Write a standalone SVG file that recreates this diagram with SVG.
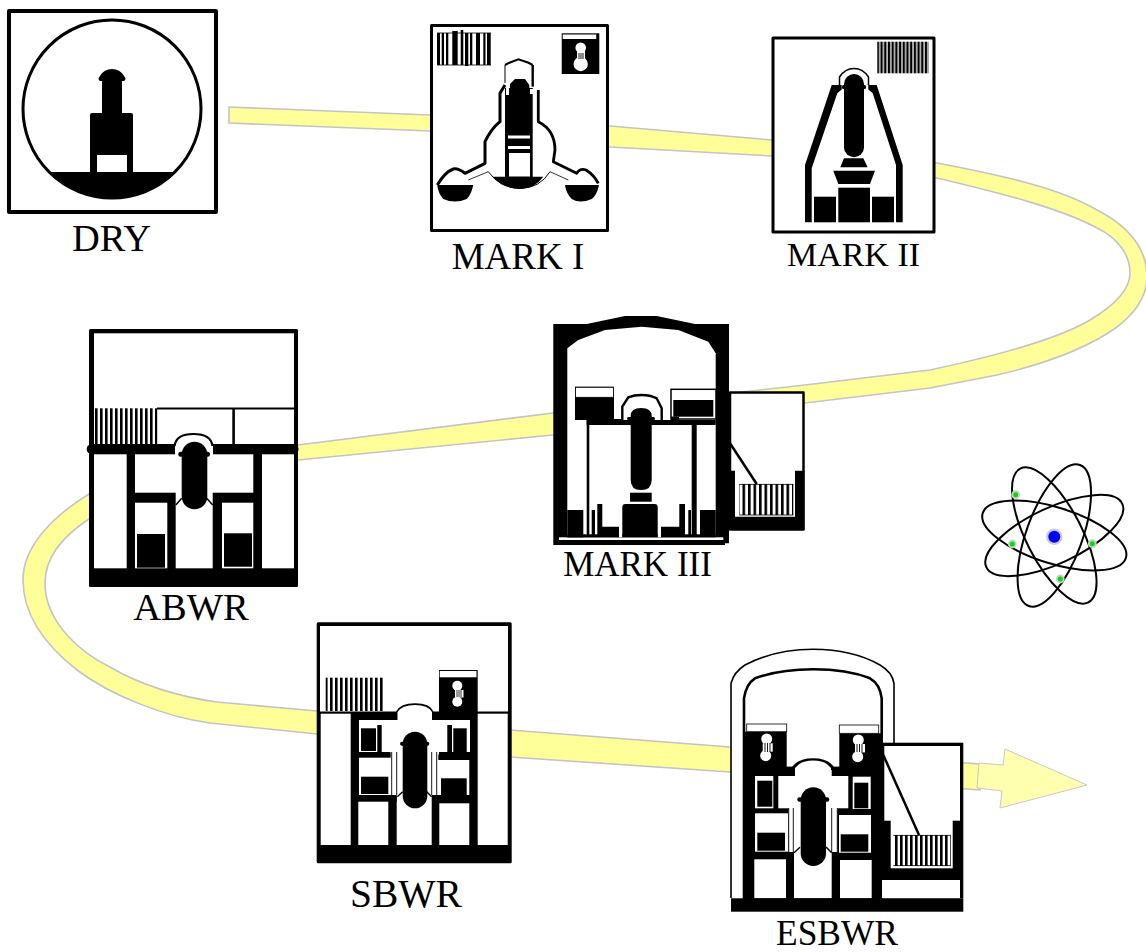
<svg xmlns="http://www.w3.org/2000/svg" width="1146" height="952" viewBox="0 0 1146 952">
<style>
.k{fill:#000}
.w{fill:#fff}
.box{fill:#fff;stroke:#000;stroke-linejoin:round}
.ln{fill:none;stroke:#000}
.t{font-family:"Liberation Serif","Times New Roman",serif;fill:#000;text-anchor:middle}
.orb{fill:none;stroke:#000;stroke-width:2}
</style>
<defs>
<pattern id="bars5" patternUnits="userSpaceOnUse" width="5" height="10"><rect width="5" height="10" fill="#fff"/><rect width="2.6" height="10" fill="#000"/></pattern>
<pattern id="bars6" patternUnits="userSpaceOnUse" width="5.5" height="10"><rect width="5.5" height="10" fill="#fff"/><rect width="2.6" height="10" fill="#000"/></pattern>
<pattern id="bars4" patternUnits="userSpaceOnUse" width="3.7" height="10"><rect width="3.7" height="10" fill="#bbb"/><rect width="2" height="10" fill="#000"/></pattern>
</defs>
<rect width="1146" height="952" fill="#fff"/>

<g id="connectors">
<path id="ribbon" fill="#ffff99" stroke="#c4c4c4" stroke-width="1.6" d="M229,107 L430,115 L610,126 L772,140 L937,163 C1000,175 1060,188 1097,210 C1130,227 1147,250 1147,277 C1147,300 1130,317 1117,327 C1085,350 1040,365 997,375 L930,388 L805,403 L553,435 L298,460 L89,519 C60,538 45,560 45,583 C45,625 85,655 110,667 C140,685 180,697 217,702 L317,711 L510,730 L730,747 L980,764 L980,790 L730,772 L510,757 L317,734 L210,723 C165,717 110,695 77,670 C45,645 23,615 23,580 C23,545 55,515 89,494 L298,445 L553,413 L805,385 L930,370 C1000,355 1060,338 1090,320 C1115,305 1130,290 1130,273 C1130,255 1118,238 1097,228 C1060,208 1000,193 937,178 L772,156 L610,147 L430,131 L229,123 Z"/>
<path id="arrowhead" fill="#ffffb0" stroke="#c8c8c8" stroke-width="1" d="M979,763 L1003,765 L1005,749 L1087,785 L1000,808 L1002,791 L977,788 Z"/>
</g>

<g id="dry">
<rect class="box" x="9" y="11" width="207" height="201" stroke-width="4"/>
<circle cx="112" cy="109" r="89" fill="#fff" stroke="#000" stroke-width="3"/>
<path class="k" d="M49,172 A89,89 0 0 0 175,172 Z"/>
<path class="k" d="M90,172 V115 Q90,113 92,113 H102 V81 H100 Q97,79 100,76 Q104,69 112,69 Q120,69 124,76 Q127,79 124,81 H122 V113 H131 Q133,113 133,115 V172 Z"/>
<rect class="w" x="97" y="155" width="30" height="17"/>
<text class="t" x="111.5" y="251" font-size="38.5">DRY</text>
</g>

<g id="mark1">
<rect class="box" x="431.5" y="25.5" width="176" height="205" stroke-width="3"/>
<path class="k" d="M437,33h3v32h-3zM441.7,33h2.3v32h-2.3zM446,33h2.3v32h-2.3zM452.3,31h5.4v34h-5.4zM460.7,30h2.6v35h-2.6zM465,33h3.3v33h-3.3zM470,33h2.3v32h-2.3zM476,33h4v32h-4zM483.3,33h2.2v32h-2.2zM487,33h3.7v32h-3.7z"/>
<path class="ln" stroke-width="0.8" d="M437,33H491M437,65H491"/>
<rect class="k" x="561.7" y="33.3" width="37.6" height="40.7"/>
<rect class="w" x="562.7" y="34.5" width="33.5" height="4.5"/>
<circle class="w" cx="580.7" cy="47.7" r="5.3"/>
<circle class="w" cx="580.7" cy="64" r="7.2"/>
<rect class="w" x="577" y="50" width="8" height="10"/>
<path class="ln" stroke-width="0.9" d="M579,53V59M581,53V59M583,53V59"/>
<path class="ln" stroke="#999" stroke-width="0.8" d="M468.3,180 L488.3,171.7 M550,171.7 L568.3,180"/>
<path class="ln" stroke-width="1" stroke="#777" d="M505,83V65"/>
<path class="ln" stroke-width="2" d="M505,65 L510,62.5 L518.3,59.3 L528,62.5 L532.7,65"/>
<path class="ln" stroke-width="2.4" d="M532.7,65 V86.7"/>
<path class="ln" stroke-width="3" stroke-linejoin="round" d="M505,85 L500,93.3 V121.7 Q491,129 485,141.7 V163.3 L465,173.3 Q458,168 453.3,169 Q445,172 437.3,185"/>
<path class="ln" stroke-width="2.8" stroke-linejoin="round" d="M538.3,90 V121.7 Q555,130 555,150 L553.3,161.7 L576.7,173.3 Q580,168 586,170 Q594,175 598.3,183.3"/>
<path class="k" d="M437.3,185 H473.3 Q471,195 466.7,199 Q455,204 443.3,199 Q438,193 437.3,185 Z"/>
<path class="k" d="M565,185 H599 Q597,195 591.7,199 Q580,204 571.7,199 Q566,193 565,185 Z"/>
<path class="k" d="M492.7,176.7 H543.3 Q535,188.5 520,189 Q503,188.5 492.7,176.7 Z"/>
<path class="ln" stroke-width="1" d="M488.3,171.7 Q500,188 520,188.5 Q540,188 550,171.7"/>
<rect class="k" x="505" y="88" width="27.7" height="89"/>
<path class="k" d="M510,84 L515,79 H525 L529.3,85 V92 H510 Z"/>
<rect class="w" x="506" y="83" width="3" height="12"/>
<rect class="w" x="530" y="89" width="6" height="5"/>
<rect class="w" x="508" y="135.5" width="22" height="3"/>
<rect class="w" x="508" y="146" width="22" height="3"/>
<rect class="w" x="509" y="153" width="21" height="23.5"/>
<text class="t" x="518" y="269" font-size="37">MARK I</text>
</g>

<g id="mark2">
<rect class="box" x="773" y="38" width="161" height="194" stroke-width="3"/>
<rect x="877.3" y="41.7" width="51.4" height="31.6" fill="url(#bars4)"/>
<path class="k" d="M831.7,85 L805,165 V222.3 H811.7 V168.3 L837.3,93.3 L841.7,89.5 V85 Z"/>
<path class="k" d="M876.7,85 L902.7,165 V222.3 H896 V165 L872.7,93.3 L868.3,89.5 V85 Z"/>
<path class="ln" stroke-width="1.5" d="M839.5,85 V77 Q845,68.5 854,68.5 Q863,68.5 868.5,77 V85"/>
<rect class="k" x="844" y="74" width="20" height="83.3" rx="10"/>
<rect class="k" x="842" y="85" width="24" height="4" rx="1.5"/>
<path class="k" d="M844,158.3 H863.3 L867.7,167.3 H840.3 Z"/>
<path class="k" d="M833.3,170.7 H875 L870,184 H838.3 Z"/>
<rect class="k" x="838.3" y="187.7" width="31.7" height="34.6"/>
<rect class="k" x="814" y="196.7" width="22" height="25.6"/>
<rect class="k" x="872" y="196.7" width="22" height="25.6"/>
<text class="t" x="853.5" y="266" font-size="34">MARK II</text>
</g>

<g id="abwr">
<rect class="k" x="89" y="329" width="209" height="258" rx="1.5"/>
<rect class="w" x="94" y="333.3" width="200" height="111"/>
<rect x="94" y="408.3" width="63.3" height="35.7" fill="url(#bars5)"/>
<rect class="k" x="157" y="407.5" width="137" height="2"/>
<rect class="k" x="232.3" y="408" width="2.6" height="36"/>
<rect class="k" x="86.7" y="444" width="211.8" height="10.3" rx="5"/>
<rect class="w" x="94" y="454.3" width="32.7" height="114"/>
<rect class="w" x="262" y="454.3" width="32" height="114"/>
<rect class="w" x="135" y="454.3" width="118.3" height="38.4"/>
<rect class="w" x="175.7" y="490" width="37" height="78.3"/>
<rect class="w" x="135" y="502.7" width="32.3" height="65.6"/>
<rect class="w" x="222" y="502.7" width="31.3" height="65.6"/>
<rect class="k" x="137" y="534" width="28" height="33.7"/>
<rect class="k" x="224" y="533.3" width="28" height="33.4"/>
<rect class="w" x="175" y="440" width="38" height="15"/>
<path class="ln" stroke-width="2.2" d="M174.5,446 Q176,434 193.5,434 Q211,434 212.5,446"/>
<rect class="k" x="181.7" y="441.7" width="25.6" height="67.6" rx="12.8"/>
<rect class="k" x="178.3" y="451.7" width="31.7" height="5" rx="2.5"/>
<path class="ln" stroke-width="1.5" d="M175.7,505 L181.7,498.3 M212.7,505 L206.7,498.3"/>
<text class="t" x="191" y="620" font-size="38.5">ABWR</text>
</g>

<g id="mark3">
<rect class="box" x="730" y="392.5" width="73.5" height="137" stroke-width="2.5"/>
<path class="k" d="M729,470.7 H735 V516.7 H795 V470.7 H804.3 V530 H729 Z"/>
<rect x="739.3" y="484" width="54" height="31" fill="url(#bars6)"/>
<path class="ln" stroke-width="0.8" d="M739.3,484.4 H793.3 M739.3,515 H793.3"/>
<path class="ln" stroke-width="2.5" d="M730,443.3 L756.7,484"/>
<path class="k" d="M553.3,324 H586.7 L625,316 H656.7 L695,324 H729 V543.3 H725 V545 H553.3 Z"/>
<path class="w" d="M567.3,348.3 L578.3,340 L605,330 L641.7,326.7 L678.3,330 L708.3,341.7 L715.7,353.3 V536 H567.3 Z"/>
<rect class="w" x="559" y="537.3" width="164.3" height="2.7"/>
<rect class="k" x="567.3" y="510" width="16" height="27.3"/>
<rect class="k" x="567.3" y="534.3" width="148.4" height="3"/>
<rect class="k" x="586.7" y="420" width="129" height="5"/>
<rect class="k" x="586.7" y="420" width="2.6" height="116.7"/>
<rect class="k" x="691.7" y="420" width="5" height="116.7"/>
<rect class="k" x="591.7" y="510" width="3.3" height="26.7"/>
<path class="k" d="M597.3,504 H602.3 V526.7 H619 V537 H597.3 Z"/>
<rect class="w" x="619" y="526" width="3.3" height="11.3"/>
<rect class="w" x="657.7" y="526" width="3.3" height="11.3"/>
<path class="k" d="M622.3,507 Q622.3,504 625.3,504 H654.7 Q657.7,504 657.7,507 V537 H622.3 Z"/>
<rect class="k" x="630" y="492.7" width="21.7" height="9"/>
<path class="k" d="M685,504 H679.3 V526.7 H661 V537 H685 Z"/>
<rect class="k" x="688.3" y="510" width="2.7" height="26.7"/>
<rect class="k" x="700" y="510" width="15.7" height="27"/>
<rect class="k" x="575" y="386.7" width="39" height="33.3"/>
<rect x="575.5" y="387.3" width="38" height="10" fill="#fff" stroke="#000" stroke-width="0.8"/>
<rect class="k" x="614" y="419" width="8.3" height="5"/>
<rect x="671" y="389.3" width="45" height="29.7" fill="#fff" stroke="#000" stroke-width="1.5"/>
<rect class="k" x="673.3" y="400" width="40" height="16.7"/>
<rect class="k" x="671" y="416.5" width="8" height="4"/>
<path d="M622.3,420 V406.7 L628.3,397.3 Q634,395 641.7,395 Q650,395 656.7,398.3 L661.7,408.3 V420 Z" fill="#fff"/>
<path class="ln" stroke-width="2.4" d="M622.3,420 V406.7 L628.3,397.3 Q634,395 641.7,395 Q650,395 656.7,398.3 L661.7,408.3 V420"/>
<path class="k" d="M630.7,416 Q630.7,408 641,408 Q651.7,408 651.7,416 V480 Q651.7,490 641,490 Q630.7,490 630.7,480 Z"/>
<rect class="k" x="627" y="417" width="28" height="3" rx="1.5"/>
<text class="t" x="637.5" y="576" font-size="35">MARK III</text>
</g>

<g id="sbwr">
<rect class="k" x="316.7" y="622.3" width="195" height="241" rx="1.5"/>
<rect class="w" x="320" y="626" width="188" height="85.5"/>
<rect x="325.7" y="677.7" width="59.3" height="33.3" fill="url(#bars5)"/>
<rect class="w" x="320.7" y="713.7" width="30" height="131.3"/>
<rect class="w" x="477.7" y="713.7" width="30" height="131.3"/>
<rect class="k" x="439" y="670" width="38.7" height="43.3"/>
<rect class="w" x="439.7" y="671" width="36.8" height="6.3"/>
<circle class="w" cx="457.3" cy="685.7" r="5"/>
<circle class="w" cx="457.3" cy="701.7" r="5"/>
<rect class="w" x="455" y="690" width="8.5" height="7.5"/>
<path class="ln" stroke-width="0.8" d="M457,690V697M459,690V697M461,690V697"/>
<path class="k" d="M396,711.7 Q400,703.3 415,703.3 Q430,703.3 433.3,711.7 V716 H396 Z"/>
<path class="w" d="M397.5,712 Q402,705 415,705 Q428,705 432,712 L432,722 H397.5 Z"/>
<rect class="w" x="359" y="720" width="111" height="32"/>
<rect class="w" x="390" y="750" width="49" height="46"/>
<rect class="w" x="396.7" y="794" width="35" height="51"/>
<rect class="k" x="361" y="728.3" width="15" height="22.7"/>
<rect class="k" x="377.3" y="725" width="4.4" height="27.3"/>
<rect class="k" x="447.3" y="725" width="4.7" height="27.3"/>
<rect class="k" x="453.3" y="728.3" width="13.4" height="24.4"/>
<rect class="k" x="359" y="752.3" width="31.7" height="5.4"/>
<rect class="k" x="438.3" y="754.5" width="31.7" height="5.5"/>
<rect class="w" x="359" y="757.7" width="31" height="37.3"/>
<rect class="w" x="439" y="760" width="30.3" height="35"/>
<rect class="k" x="361" y="776.7" width="27.3" height="17.3"/>
<rect class="k" x="441" y="778.3" width="25.7" height="16.7"/>
<rect class="k" x="388" y="795" width="8.7" height="6.7"/>
<rect class="k" x="432" y="795" width="8" height="6.7"/>
<rect class="w" x="358.3" y="801.7" width="30" height="43.3"/>
<rect class="w" x="439.3" y="803.3" width="30" height="41.7"/>
<path class="ln" stroke-width="0.9" d="M391.7,752V795M396.7,752V795M431.7,752V795M436.7,752V795"/>
<rect class="k" x="402.7" y="731.7" width="24.6" height="76.6" rx="12.3"/>
<rect class="k" x="400" y="741.7" width="29.3" height="4" rx="2"/>
<path class="ln" stroke-width="1.5" d="M397.3,796.7 L402.7,791.7 M431.7,796.7 L426.7,791.7"/>
<text class="t" x="406" y="907" font-size="39.5">SBWR</text>
</g>

<g id="esbwr">
<path d="M731,898 V683.3 Q734,672 745,665 Q775,649.3 813.3,649.3 Q852,649.3 880,665 Q892,672 894,683.3 V743.3" fill="#fff" stroke="#000" stroke-width="1.6"/>
<path d="M744,898 V698.3 Q746,684 755,678.3 Q780,669.3 813.3,669.3 Q847,669.3 870,678.3 Q880,684 881.7,698.3 V898 Z" fill="#fff" stroke="#000" stroke-width="2.6"/>
<rect class="k" x="744" y="731.7" width="42.7" height="36"/>
<rect class="k" x="839.3" y="733.3" width="42.7" height="34.4"/>
<rect x="746.7" y="724" width="40" height="7.7" fill="#fff" stroke="#000" stroke-width="0.8"/>
<rect x="839.3" y="725" width="39.4" height="8.3" fill="#fff" stroke="#000" stroke-width="0.8"/>
<circle class="w" cx="766.7" cy="739" r="5.5"/>
<circle class="w" cx="765.7" cy="755.7" r="5.5"/>
<rect class="w" x="762.7" y="743.3" width="10" height="8.4"/>
<path class="ln" stroke-width="0.9" d="M765,743V752M767.5,743V752M770,743V752"/>
<circle class="w" cx="858.3" cy="740" r="5.5"/>
<circle class="w" cx="857.7" cy="756.7" r="5.5"/>
<rect class="w" x="855" y="744" width="10" height="8.4"/>
<path class="ln" stroke-width="0.9" d="M857,744V752M859.5,744V752M862,744V752"/>
<rect class="k" x="744" y="767" width="138" height="131.5"/>
<path class="ln" stroke="#666" stroke-width="0.8" d="M747,767H878"/>
<path class="k" d="M792,770 V767 Q798,758.3 813.3,758.3 Q828,758.3 834,767 V770 Z"/>
<path class="w" d="M795,771 V768 Q800,760.5 813.3,760.5 Q826,760.5 831,768 V771 Z"/>
<rect class="w" x="795" y="770" width="36.7" height="6"/>
<rect class="w" x="778.3" y="776" width="70" height="32.3"/>
<rect class="w" x="788.5" y="806" width="49" height="46"/>
<rect class="w" x="794" y="850" width="37.7" height="48.3"/>
<rect class="w" x="755" y="776" width="18.3" height="32.3"/>
<rect class="k" x="757.3" y="780.7" width="15" height="26"/>
<rect class="w" x="852.7" y="776.7" width="18" height="32.3"/>
<rect class="k" x="854.3" y="782.7" width="14" height="25.6"/>
<rect class="w" x="755" y="813.3" width="33.3" height="38.4"/>
<rect class="k" x="757.3" y="832.7" width="27.7" height="18"/>
<rect class="w" x="839" y="815" width="32" height="37.7"/>
<rect class="k" x="840.7" y="834.3" width="27.6" height="17.4"/>
<rect class="w" x="754.3" y="859.3" width="31.7" height="39"/>
<rect class="w" x="840" y="860" width="31.7" height="38.3"/>
<path class="ln" stroke-width="0.9" d="M788.7,808V852M793.3,808V852M831.7,808V852M837.3,808V852"/>
<rect class="k" x="800.7" y="787.3" width="25.3" height="78.7" rx="12.6"/>
<rect class="k" x="797.3" y="797.3" width="32" height="4.4" rx="2.2"/>
<path class="ln" stroke-width="1.5" d="M794,852.7 L800,847.3 M831.7,852.7 L826,847"/>
<rect class="k" x="882" y="742.7" width="81.3" height="155.6"/>
<rect class="w" x="884.3" y="746" width="75.7" height="74.7"/>
<rect class="w" x="890.7" y="820" width="62" height="48.3"/>
<rect class="w" x="882" y="880" width="78" height="18.3"/>
<rect x="893.3" y="835" width="57.4" height="31" fill="url(#bars5)"/>
<path class="ln" stroke-width="0.8" d="M893.3,835.4 H950.7 M893.3,865.6 H950.7"/>
<path class="ln" stroke-width="2.5" d="M883.3,755 L919,835"/>
<rect class="k" x="731" y="898.3" width="232.3" height="13.4"/>
<text class="t" x="837" y="945" font-size="35.4">ESBWR</text>
</g>

<g id="atom">
<ellipse class="orb" cx="1054.3" cy="535.5" rx="75" ry="28" transform="rotate(17.4 1054.3 535.5)"/>
<ellipse class="orb" cx="1054.3" cy="535.5" rx="75" ry="28" transform="rotate(-25 1054.3 535.5)"/>
<ellipse class="orb" cx="1054.3" cy="535.5" rx="75" ry="28" transform="rotate(63 1054.3 535.5)"/>
<ellipse class="orb" cx="1054.3" cy="535.5" rx="75" ry="28" transform="rotate(-70 1054.3 535.5)"/>
<circle cx="1054.3" cy="536.7" r="8.2" fill="#ccc"/>
<circle cx="1054.3" cy="536.7" r="6" fill="#0000ff"/>
<g fill="#ccc"><circle cx="1015.7" cy="494.7" r="4.4"/><circle cx="1012.3" cy="544" r="4.4"/><circle cx="1092.3" cy="543.7" r="4.4"/><circle cx="1060.3" cy="579" r="4.4"/></g>
<g fill="#00e000"><circle cx="1015.7" cy="494.7" r="2.5"/><circle cx="1012.3" cy="544" r="2.5"/><circle cx="1092.3" cy="543.7" r="2.5"/><circle cx="1060.3" cy="579" r="2.5"/></g>
</g>
</svg>
